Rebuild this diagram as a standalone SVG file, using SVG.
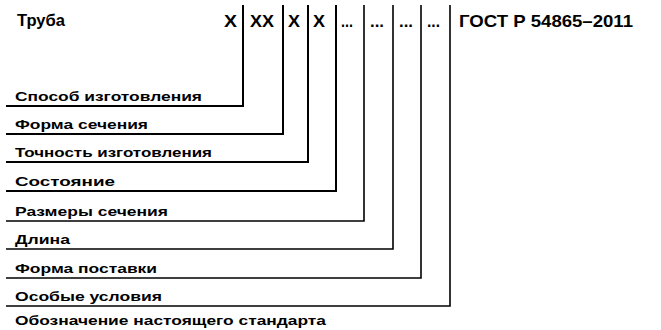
<svg xmlns="http://www.w3.org/2000/svg" width="661" height="330" viewBox="0 0 661 330">
<style>
text{font-family:"Liberation Sans",Arial,sans-serif;font-weight:bold;fill:#000}
.top{font-size:17px}
.lbl{font-size:13px}
.ln{stroke:#000;fill:none;stroke-width:2}
.thin{stroke-width:1.6}
</style>
<rect width="661" height="330" fill="#fff"/>
<g id="header">
<text class="top" x="17" y="26" textLength="48" lengthAdjust="spacingAndGlyphs">Труба</text>
<text class="top" x="224" y="27" textLength="13" lengthAdjust="spacingAndGlyphs">X</text>
<text class="top" x="250" y="27" textLength="24" lengthAdjust="spacingAndGlyphs">XX</text>
<text class="top" x="288" y="27" textLength="12" lengthAdjust="spacingAndGlyphs">X</text>
<text class="top" x="313" y="27" textLength="12" lengthAdjust="spacingAndGlyphs">X</text>
<text class="top" x="341" y="27" textLength="12" lengthAdjust="spacingAndGlyphs">...</text>
<text class="top" x="370" y="27" textLength="14" lengthAdjust="spacingAndGlyphs">...</text>
<text class="top" x="399" y="27" textLength="14" lengthAdjust="spacingAndGlyphs">...</text>
<text class="top" x="427" y="27" textLength="13" lengthAdjust="spacingAndGlyphs">...</text>
<text class="top" x="459" y="27" textLength="174" lengthAdjust="spacingAndGlyphs">ГОСТ Р 54865–2011</text>
</g>
<g id="connectors">
<path class="ln" d="M243 5V106H6"/>
<path class="ln" d="M283 5V134H6"/>
<path class="ln" d="M308 5V162H6"/>
<path class="ln" d="M336 5V191H6"/>
<path class="ln thin" d="M364 5V221H6"/>
<path class="ln thin" d="M393 5V249H6"/>
<path class="ln thin" d="M421 5V278H6"/>
<path class="ln thin" d="M450 5V306H6"/>
</g>
<g id="n1"><text class="lbl" x="15" y="101" textLength="187" lengthAdjust="spacingAndGlyphs">Способ изготовления</text></g>
<g id="n2"><text class="lbl" x="15" y="129" textLength="133" lengthAdjust="spacingAndGlyphs">Форма сечения</text></g>
<g id="n3"><text class="lbl" x="15" y="157" textLength="197" lengthAdjust="spacingAndGlyphs">Точность изготовления</text></g>
<g id="n4"><text class="lbl" x="15" y="186" textLength="100" lengthAdjust="spacingAndGlyphs">Состояние</text></g>
<g id="n5"><text class="lbl" x="15" y="216" textLength="153" lengthAdjust="spacingAndGlyphs">Размеры сечения</text></g>
<g id="n6"><text class="lbl" x="15" y="244" textLength="55" lengthAdjust="spacingAndGlyphs">Длина</text></g>
<g id="n7"><text class="lbl" x="15" y="273" textLength="142" lengthAdjust="spacingAndGlyphs">Форма поставки</text></g>
<g id="n8"><text class="lbl" x="15" y="301" textLength="147" lengthAdjust="spacingAndGlyphs">Особые условия</text></g>
<g id="n9"><text class="lbl" x="15" y="325" textLength="311" lengthAdjust="spacingAndGlyphs">Обозначение настоящего стандарта</text></g>
</svg>
